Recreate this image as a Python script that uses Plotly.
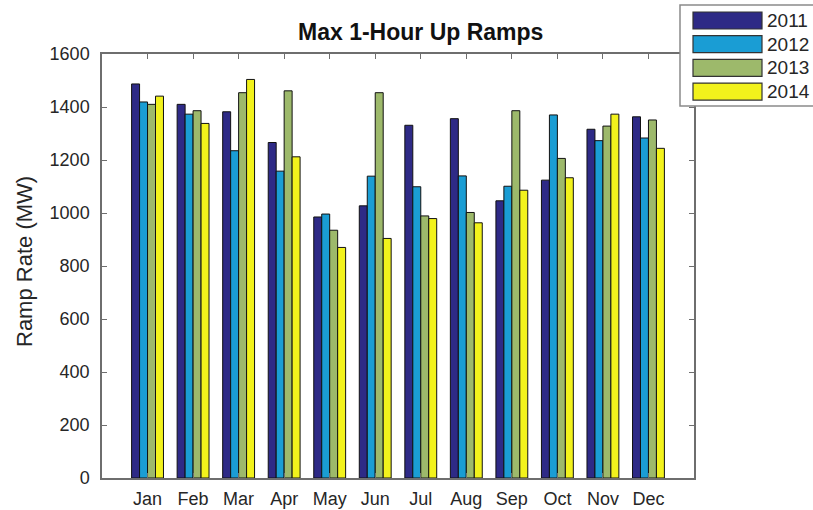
import plotly.graph_objects as go

months = ["Jan", "Feb", "Mar", "Apr", "May", "Jun", "Jul", "Aug", "Sep", "Oct", "Nov", "Dec"]
years = ["2011", "2012", "2013", "2014"]
v2011 = [1487, 1410, 1382, 1266, 985, 1027, 1331, 1356, 1046, 1124, 1316, 1363]
v2012 = [1419, 1373, 1235, 1158, 996, 1139, 1099, 1140, 1101, 1370, 1273, 1283]
v2013 = [1410, 1386, 1454, 1461, 935, 1454, 989, 1002, 1386, 1206, 1328, 1351]
v2014 = [1441, 1338, 1504, 1212, 870, 904, 979, 963, 1086, 1133, 1373, 1244]
series = [v2011, v2012, v2013, v2014]
colors = ["#2e2a86", "#1a9dd4", "#9db96b", "#f2f21c"]
yticks = [0, 200, 400, 600, 800, 1000, 1200, 1400, 1600]

W, H = 813, 510
# plot area in page pixels: left 102, right 694, top 54, bottom 478
L, R, T, B = 102, W - 694, 54, H - 478
pw, ph = W - L - R, H - T - B

fig = go.Figure()
xpos = list(range(1, len(months) + 1))
for name, vals, col in zip(years, series, colors):
    fig.add_trace(go.Bar(x=xpos, y=vals, name=name, marker=dict(color=col, line=dict(color="#111111", width=1)),
                         showlegend=False))

font = "Liberation Sans, Arial, sans-serif"
axcol = "#6e6e6e"
fig.update_layout(
    width=W, height=H,
    margin=dict(l=L, r=R, t=T, b=B, autoexpand=False),
    paper_bgcolor="white", plot_bgcolor="white",
    barmode="group", bargap=0.3, bargroupgap=0,
    hovermode=False,
    font=dict(family=font, color="#262626", size=18),
    xaxis=dict(range=[0, 13], tickvals=xpos, ticktext=months, ticks="inside", ticklen=5,
               tickcolor=axcol, showline=True, linecolor=axcol, linewidth=1.5, mirror="ticks",
               showgrid=False, zeroline=False, tickfont=dict(size=18), automargin=False,
               ticklabelstandoff=4),
    yaxis=dict(range=[0, 1600], tickvals=yticks, ticks="inside", ticklen=5,
               tickcolor=axcol, showline=True, linecolor=axcol, linewidth=1.5, mirror="ticks",
               showgrid=False, zeroline=False, tickfont=dict(size=18), ticklabelstandoff=7,
               automargin=False),
)

# helpers converting page pixels to paper coordinates
def px(x):
    return (x - L) / pw

def py(y):
    return (H - B - y) / ph

# title and y-axis label
fig.add_annotation(text="<b>Max 1-Hour Up Ramps</b>", xref="paper", yref="paper",
                   x=px(420), y=py(32), xanchor="center", yanchor="middle",
                   showarrow=False, font=dict(size=23, color="#111111", family=font))
fig.add_annotation(text="Ramp Rate (MW)", xref="paper", yref="paper", textangle=-90,
                   x=px(24), y=py(262), xanchor="center", yanchor="middle",
                   showarrow=False, font=dict(size=22, color="#262626", family=font))

# legend box
fig.add_shape(type="rect", xref="paper", yref="paper", x0=px(680), x1=px(830), y0=py(106), y1=py(5),
              line=dict(color="#8a8a8a", width=1.5), fillcolor="white", layer="above")
for i, (name, col) in enumerate(zip(years, colors)):
    cy = 20.5 + i * 23.7
    fig.add_shape(type="rect", xref="paper", yref="paper", x0=px(693), x1=px(762),
                  y0=py(cy + 8.5), y1=py(cy - 8.5), fillcolor=col,
                  line=dict(color="#333333", width=1.2), layer="above")
    fig.add_annotation(text=name, xref="paper", yref="paper", x=px(765), y=py(cy),
                       xanchor="left", yanchor="middle", showarrow=False,
                       font=dict(size=19, color="#262626", family=font))

fig.write_html("out.html", config={"displayModeBar": False},
               post_script="document.body.style.margin='0';document.body.style.overflow='hidden';")
